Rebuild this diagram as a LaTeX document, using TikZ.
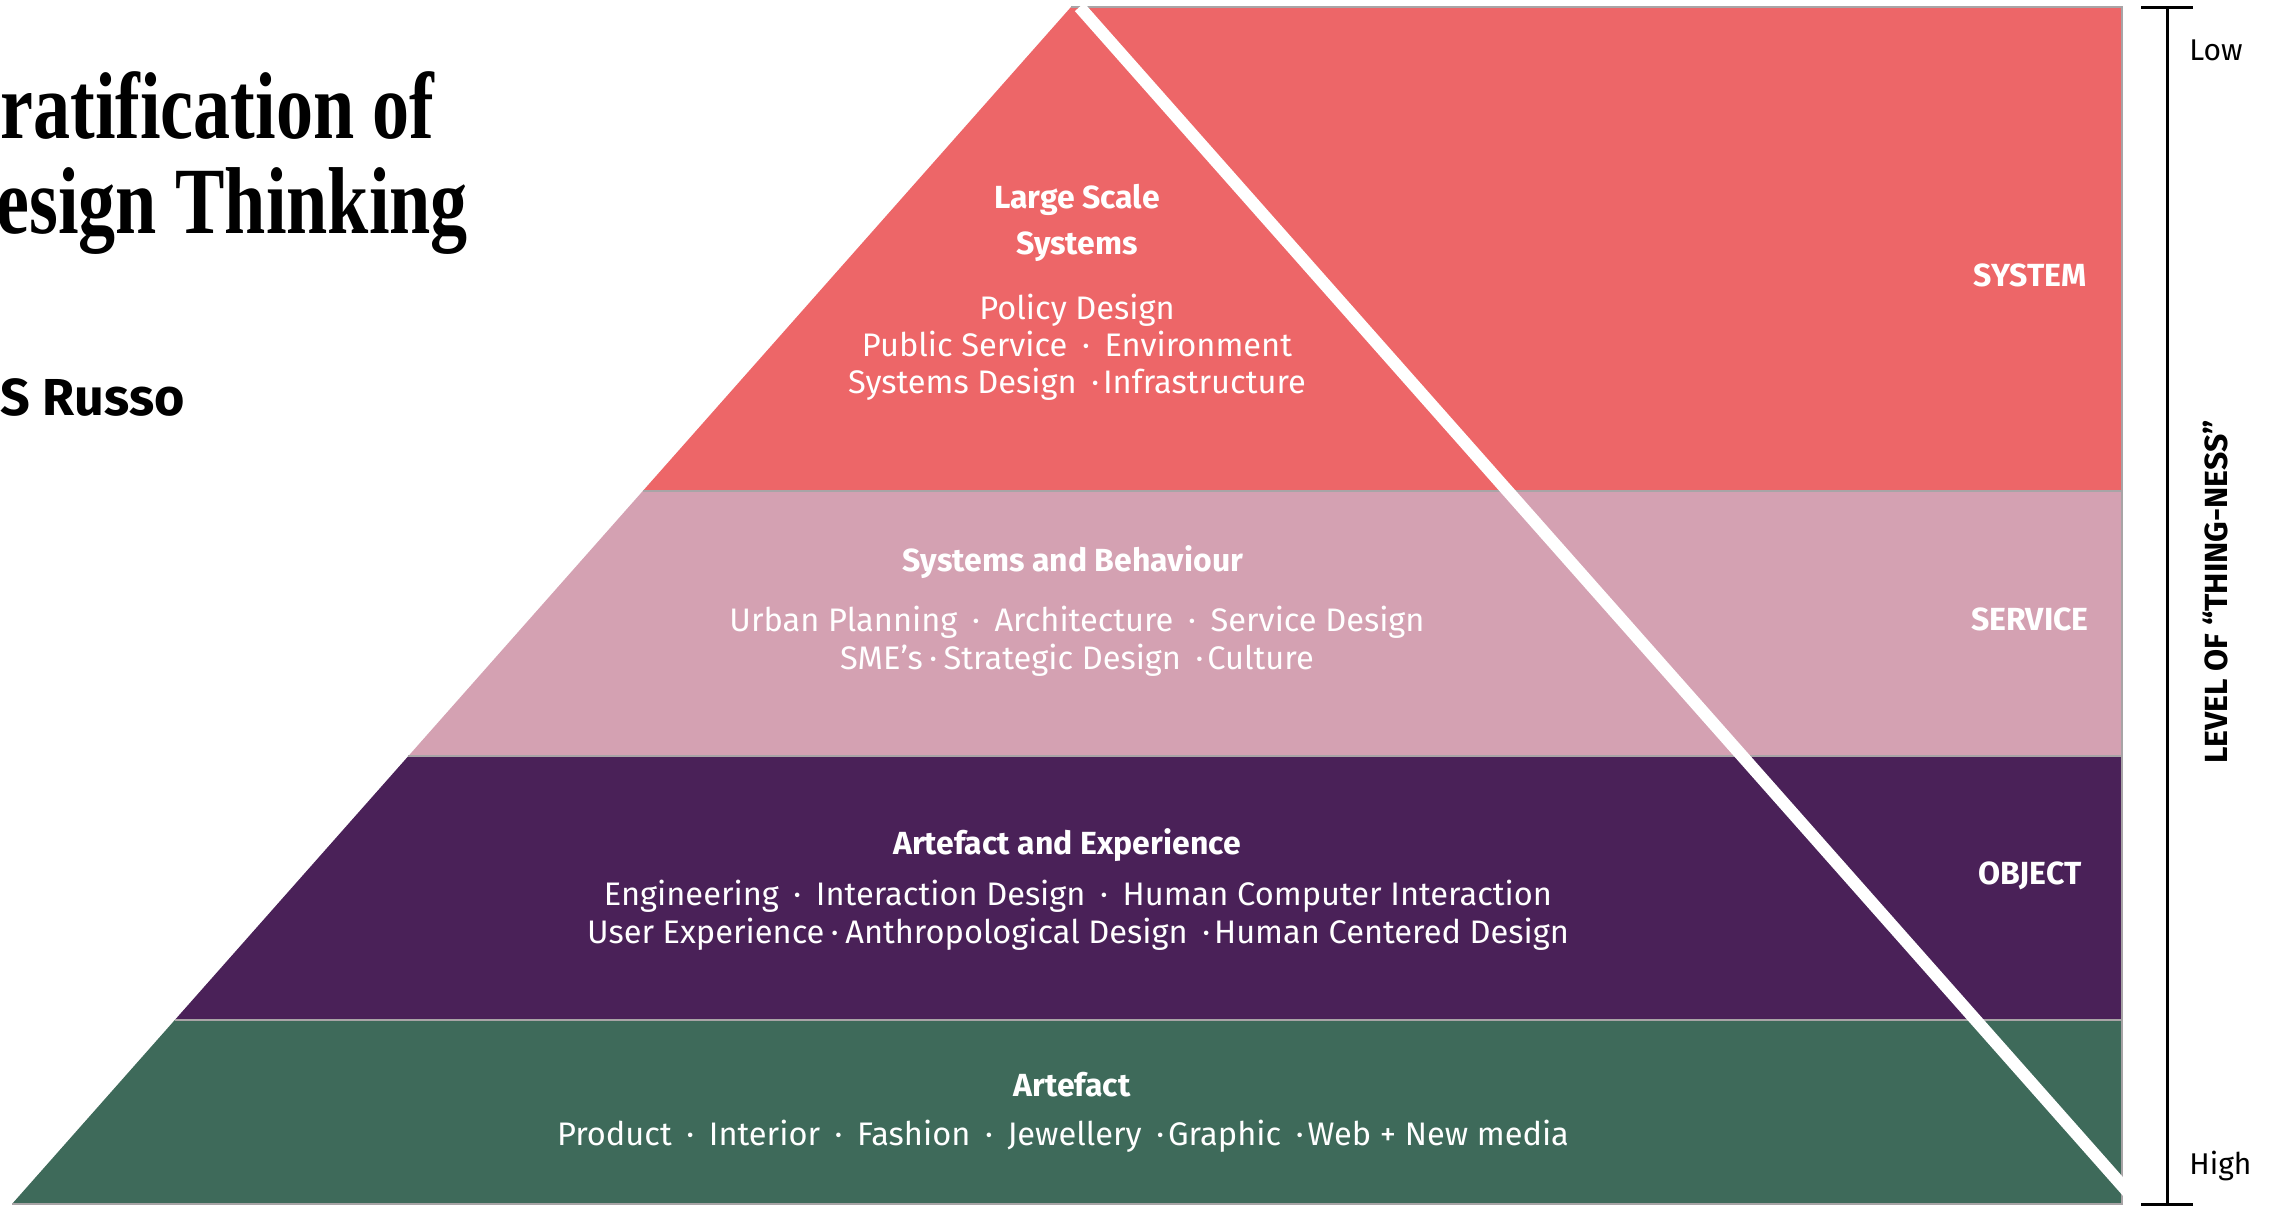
\documentclass[tikz,border=0pt]{standalone}
\usepackage{fontspec}
\setmainfont{Fira Sans}
\newfontfamily\titlefont{Liberation Serif}[FakeStretch=0.78]

\definecolor{sysred}{HTML}{ED6668}
\definecolor{servpink}{HTML}{D4A1B2}
\definecolor{objpurple}{HTML}{4A2158}
\definecolor{artgreen}{HTML}{3E6A5A}
\definecolor{seamgray}{HTML}{A8A4A6}

% separators between items in a list line
\newcommand\dotsep{\hspace{0.45em}·\hspace{0.45em}}
\newcommand\lsep{\hspace{0.45em}·\hspace{0.12em}}
\newcommand\nsep{\hspace{0.2em}·\hspace{0.2em}}

\tikzset{
  head/.style={anchor=base, text=white, inner sep=0pt, font=\fontsize{16}{19}\selectfont\bfseries},
  body/.style={anchor=base, text=white, inner sep=0pt, font=\fontsize{16.3}{19}\selectfont},
  tier/.style={anchor=center, text=white, inner sep=0pt, font=\fontsize{16}{19}\selectfont\bfseries},
  scalelbl/.style={anchor=west, text=black, inner sep=0pt, font=\fontsize{15}{18}\selectfont},
  seam/.style={draw=seamgray, line width=0.7pt},
}

\begin{document}
\begin{tikzpicture}[x=0.5pt, y=-0.5pt]
\useasboundingbox (0,0) rectangle (2285,1207);
\fill[white] (0,0) rectangle (2285,1207);

% corner points of the bands (left edge of the pyramid)
\coordinate (apex) at (1071,7);
\coordinate (l1) at (642.8,491);
\coordinate (l2) at (408.4,756);
\coordinate (l3) at (174.8,1020);
\coordinate (l4) at (12,1204);
\coordinate (r0) at (2122,7);
\coordinate (r1) at (2122,491);
\coordinate (r2) at (2122,756);
\coordinate (r3) at (2122,1020);
\coordinate (r4) at (2122,1204);

% bands
\fill[sysred] (apex) -- (r0) -- (r1) -- (l1) -- cycle;
\fill[servpink] (l1) -- (r1) -- (r2) -- (l2) -- cycle;
\fill[objpurple] (l2) -- (r2) -- (r3) -- (l3) -- cycle;
\fill[artgreen] (l3) -- (r3) -- (r4) -- (l4) -- cycle;

% fine seams between bands
\draw[seam] (apex) -- (r0) -- (r4) -- (l4);
\draw[seam] (l1) -- (r1);
\draw[seam] (l2) -- (r2);
\draw[seam] (l3) -- (r3);

% white diagonal: right flank of the pyramid
\coordinate (dtop) at (1079.5,7);
\coordinate (dbot) at (2138.5,1204);
\draw[white, line width=6.2pt] (dtop) -- (dbot);
\fill[white] (1060,0) rectangle (1100,6.3);

% title and author
\node[anchor=base west, inner sep=0pt, font=\titlefont\fontsize{47.5}{50}\selectfont\bfseries] (t1) at (0,138) {ratification of};
\node[anchor=base west, inner sep=0pt, font=\titlefont\fontsize{47.5}{50}\selectfont\bfseries] (t2) at (-4,233) {esign Thinking};
\node[anchor=base west, inner sep=0pt, font=\fontsize{26}{30}\selectfont\bfseries] (author) at (0,415) {S Russo};

% system band
\node[head] (sysh1) at (1077,208) {Large Scale};
\node[head] (sysh2) at (1077,254) {Systems};
\node[body] (sysb1) at (1077,319) {Policy Design};
\node[body] (sysb2) at (1077,356) {Public Service\dotsep Environment};
\node[body] (sysb3) at (1077,393) {Systems Design\lsep Infrastructure};

% service band
\node[head] (svch) at (1073,571) {Systems and Behaviour};
\node[body] (svcb1) at (1077,631) {Urban Planning\dotsep Architecture\dotsep Service Design};
\node[body] (svcb2) at (1077,669) {SME’s\nsep Strategic Design\lsep Culture};

% object band
\node[head] (objh) at (1067,854) {Artefact and Experience};
\node[body] (objb1) at (1078,905) {Engineering\dotsep Interaction Design\dotsep Human Computer Interaction};
\node[body] (objb2) at (1078,943) {User Experience\nsep Anthropological Design\lsep Human Centered Design};

% artefact band
\node[head] (arth) at (1072,1096) {Artefact};
\node[body] (artb) at (1063,1145) {Product\dotsep Interior\dotsep Fashion\dotsep Jewellery\lsep Graphic\lsep Web + New media};

% tier names
\node[tier] (tsys) at (2030,275) {SYSTEM};
\node[tier] (tsvc) at (2030,619) {SERVICE};
\node[tier] (tobj) at (2030,876) {OBJECT};

% thing-ness scale
\coordinate (stop) at (2167,7);
\coordinate (sbot) at (2167,1204);
\draw[black, line width=1.5pt] (stop) -- (sbot);
\draw[black, line width=1.5pt] ([xshift=-13]stop) -- ([xshift=13]stop);
\draw[black, line width=1.5pt] ([xshift=-13]sbot) -- ([xshift=13]sbot);
\node[scalelbl] (low) at (2189,50) {Low};
\node[scalelbl] (high) at (2189,1166) {High};
\node[rotate=90, inner sep=0pt, font=\fontsize{16}{18}\selectfont\bfseries] (level) at (2215,592) {LEVEL OF “THING-NESS”};
\end{tikzpicture}
\end{document}
